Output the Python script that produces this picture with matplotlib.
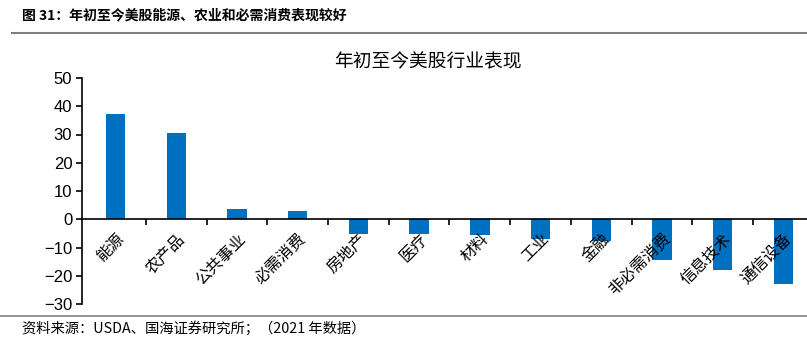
import matplotlib.pyplot as plt

plt.rcParams['font.family'] = ['Noto Sans CJK SC', 'DejaVu Sans']

# 数据
sectors = ['能源', '农产品', '公共事业', '必需消费', '房地产', '医疗', '材料',
           '工业', '金融', '非必需消费', '信息技术', '通信设备']
ytd = [37.2, 30.6, 3.8, 3.0, -5.1, -5.3, -5.6, -7.1, -7.6, -14.6, -18.0, -23.0]

fig = plt.figure(figsize=(8.07, 3.41), dpi=100)
ax = fig.add_axes([82 / 807, 37 / 341, 725 / 807, 226 / 341])

x = list(range(len(sectors)))
ax.bar(x, ytd, width=0.32, color='#0070C0')

ax.set_xlim(-0.554, 11.39)
ax.set_ylim(-30, 50)
ax.set_yticks(range(-30, 51, 10))
ax.set_yticklabels([str(v).replace('-', '\u2212') for v in range(-30, 51, 10)],
                   family='Liberation Sans', fontsize=12)

# 坐标轴
for s in ['top', 'right']:
    ax.spines[s].set_visible(False)
ax.spines['bottom'].set_position(('data', 0))
ax.spines['bottom'].set_linewidth(1.2)
ax.spines['left'].set_linewidth(1.2)
ax.tick_params(axis='y', direction='out', length=4, width=1.2, pad=3)

ax.set_xticks([i + 0.5 for i in x[:-1]])
ax.set_xticklabels([])
ax.tick_params(axis='x', which='major', direction='out', length=4, width=1.2)
ax.set_xticks(x, minor=True)
ax.set_xticklabels(sectors, minor=True, rotation=45, ha='right',
                   rotation_mode='anchor', fontsize=11.5)
ax.tick_params(axis='x', which='minor', length=0, pad=8)

fig.text(428 / 807, 1 - 62 / 341, '年初至今美股行业表现', ha='center', va='center',
         fontsize=13.5)

# 标题和来源
fig.text(22 / 807, 1 - 15 / 341, '图 31：年初至今美股能源、农业和必需消费表现较好',
         ha='left', va='center', fontsize=10, fontweight='bold')
fig.add_artist(plt.Line2D([12 / 807, 1], [1 - 33 / 341] * 2, color='#808080', lw=1.5))
fig.add_artist(plt.Line2D([0, 1], [1 - 316 / 341] * 2, color='#808080', lw=1.2))
fig.text(22 / 807, 1 - 328 / 341, '资料来源：USDA、国海证券研究所；（2021 年数据）',
         ha='left', va='center', fontsize=10.3)

fig.savefig('out.png', dpi=100)
